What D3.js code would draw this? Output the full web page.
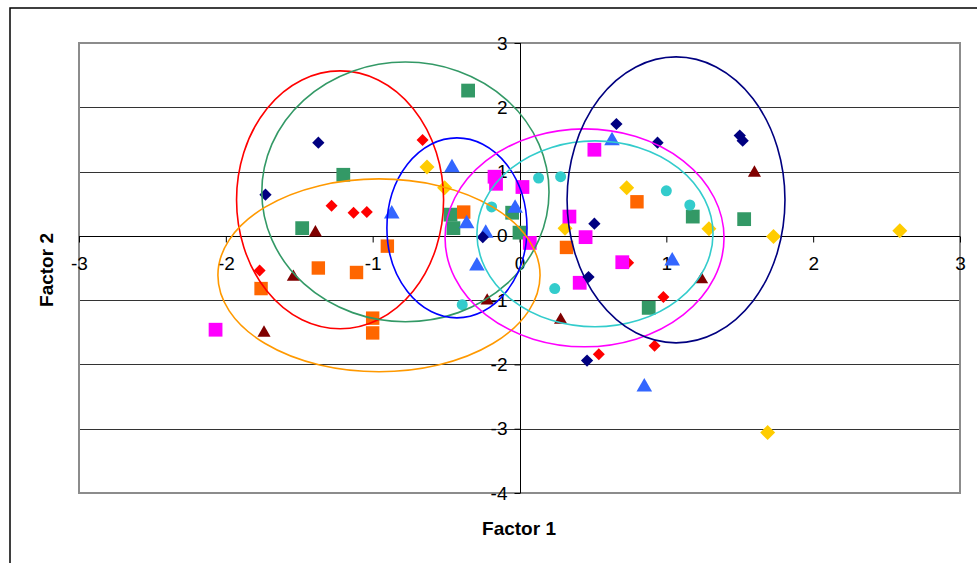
<!DOCTYPE html>
<html>
<head>
<meta charset="utf-8">
<title>Factor scatter</title>
<style>
  body { margin: 0; background: #fff; }
  svg { display: block; font-family: Arial, "Liberation Sans", sans-serif; }
</style>
<script src="https://cdn.jsdelivr.net/npm/d3@7"></script>
</head>
<body>
<svg id="chart" width="977" height="563"></svg>
<script>
// axis ticks
var xTicks = [-3, -2, -1, 0, 1, 2, 3];
var yTicks = [-4, -3, -2, -1, 0, 1, 2, 3];

// point groups, [factor1, factor2]
var navyPts = [[-1.37, 1.45], [-1.73, 0.64], [0.66, 1.74], [0.94, 1.45], [1.50, 1.56], [1.52, 1.48],
  [0.51, 0.19], [-0.25, -0.02], [0.47, -0.64], [0.46, -1.94]];
var redPts = [[-0.66, 1.49], [-1.28, 0.47], [-1.13, 0.36], [-1.04, 0.37], [-1.77, -0.54],
  [0.74, -0.42], [0.98, -0.95], [0.92, -1.71], [0.54, -1.84]];
var greenPts = [[-0.35, 2.26], [-1.20, 0.95], [-1.48, 0.12], [-0.47, 0.33], [-0.45, 0.12],
  [-0.05, 0.36], [0.00, 0.05], [1.18, 0.30], [1.53, 0.26], [0.88, -1.12]];
var bluePts = [[-0.46, 1.06], [-0.87, 0.34], [-0.36, 0.19], [-0.03, 0.43], [-0.29, -0.47],
  [-0.23, 0.04], [0.63, 1.48], [1.04, -0.39], [0.85, -2.35]];
var goldPts = [[-0.63, 1.07], [-0.51, 0.75], [0.31, 0.12], [0.73, 0.75], [1.29, 0.11],
  [1.73, -0.01], [2.59, 0.08], [1.69, -3.06]];
var orangePts = [[-0.38, 0.37], [-0.90, -0.16], [-1.37, -0.50], [-1.11, -0.57], [-1.76, -0.82],
  [-1.00, -1.28], [-1.00, -1.51], [0.32, -0.18], [0.80, 0.53]];
var magentaPts = [[-0.17, 0.92], [-0.16, 0.81], [0.02, 0.76], [0.07, -0.11], [0.51, 1.34],
  [0.34, 0.30], [0.45, -0.02], [0.41, -0.73], [0.70, -0.41], [-2.07, -1.46]];
var cyanPts = [[0.13, 0.90], [0.28, 0.92], [-0.19, 0.45], [1.00, 0.70], [1.16, 0.48],
  [0.24, -0.82], [-0.39, -1.07]];
var maroonPts = [[-1.39, 0.05], [-1.54, -0.64], [-1.74, -1.51], [-0.22, -1.01], [0.28, -1.31],
  [1.24, -0.68], [1.60, 0.98]];

// group ellipses: centre x, centre y, radius x, radius y (data units)
var ellRed = [-1.222, 0.56, 0.705, 2.006];
var ellGreen = [-0.777, 0.684, 0.978, 2.02];
var ellBlue = [-0.426, 0.124, 0.477, 1.40];
var ellOrange = [-0.957, -0.614, 1.097, 1.50];
var ellMagenta = [0.443, -0.031, 0.950, 1.695];
var ellCyan = [0.514, 0.031, 0.804, 1.446];
var ellNavy = [1.066, 0.56, 0.742, 2.224];

var series = [
  {pts: goldPts, color: "#FFCC00", shape: "diamond", size: 112},
  {pts: redPts, color: "#FF0000", shape: "diamond", size: 72},
  {pts: greenPts, color: "#339966", shape: "square", size: 190},
  {pts: orangePts, color: "#FF6600", shape: "square", size: 180},
  {pts: cyanPts, color: "#33CCCC", shape: "circle", size: 95},
  {pts: magentaPts, color: "#FF00FF", shape: "square", size: 190},
  {pts: bluePts, color: "#3366FF", shape: "triangle", size: 105},
  {pts: navyPts, color: "#000080", shape: "diamond", size: 75},
  {pts: maroonPts, color: "#800000", shape: "triangle", size: 75}
];
var ellipses = [
  {e: ellRed, color: "#FF0000"},
  {e: ellGreen, color: "#339966"},
  {e: ellBlue, color: "#0000FF"},
  {e: ellOrange, color: "#FF9900"},
  {e: ellMagenta, color: "#FF00FF"},
  {e: ellCyan, color: "#33CCCC"},
  {e: ellNavy, color: "#000080"}
];

var svg = d3.select("#chart");
var plotL = 79, plotR = 960, plotT = 43, plotB = 493;
var x = d3.scaleLinear().domain([-3, 3]).range([plotL, plotR]);
var y = d3.scaleLinear().domain([-4, 3]).range([plotB, plotT]);

// outer chart frame (runs past the window on right and bottom)
svg.append("rect").attr("x", 10).attr("y", 8).attr("width", 1000).attr("height", 600)
  .attr("fill", "none").attr("stroke", "#000").attr("stroke-width", 1.5);

// gridlines
svg.append("g").selectAll("line").data(yTicks.filter(function (d) { return d !== 0 && d !== -4 && d !== 3; }))
  .enter().append("line")
  .attr("x1", plotL).attr("x2", plotR)
  .attr("y1", function (d) { return Math.round(y(d)) + 0.5; })
  .attr("y2", function (d) { return Math.round(y(d)) + 0.5; })
  .attr("stroke", "#333").attr("stroke-width", 1);

// plot area border
svg.append("rect").attr("x", plotL).attr("y", plotT).attr("width", plotR - plotL).attr("height", plotB - plotT)
  .attr("fill", "none").attr("stroke", "#8c8c8c").attr("stroke-width", 2);

var fmt = function (d) { return String(d); };

// x axis on y = 0
var xAxis = d3.axisBottom(x).tickValues(xTicks).tickFormat(fmt).tickSize(6).tickPadding(14);
var gx = svg.append("g").attr("transform", "translate(0," + (Math.round(y(0)) + 0.5) + ")").call(xAxis);
gx.select(".domain").attr("stroke", "#000").attr("d", "M" + plotL + ",0H" + plotR);
gx.selectAll(".tick line").attr("stroke", "#000");
gx.selectAll("text").attr("font-size", 19).attr("font-family", "Arial, 'Liberation Sans'").attr("fill", "#000");

// y axis on x = 0
var yAxis = d3.axisLeft(y).tickValues(yTicks).tickFormat(fmt).tickSize(6).tickPadding(7);
var gy = svg.append("g").attr("transform", "translate(" + (Math.round(x(0)) + 0.5) + ",0)").call(yAxis);
gy.select(".domain").attr("stroke", "#000").attr("d", "M0," + plotT + "V" + plotB);
gy.selectAll(".tick line").attr("stroke", "#000");
gy.selectAll("text").attr("font-size", 19).attr("font-family", "Arial, 'Liberation Sans'").attr("fill", "#000");

// markers
var sym = {
  diamond: d3.symbolSquare, square: d3.symbolSquare,
  circle: d3.symbolCircle, triangle: d3.symbolTriangle
};
series.forEach(function (s) {
  svg.append("g").selectAll("path").data(s.pts).enter().append("path")
    .attr("d", d3.symbol().type(sym[s.shape]).size(s.size))
    .attr("transform", function (d) {
      var t = "translate(" + x(d[0]) + "," + y(d[1]) + ")";
      return s.shape === "diamond" ? t + " rotate(45)" : t;
    })
    .attr("fill", s.color);
});

// group ellipses on top
svg.append("g").selectAll("ellipse").data(ellipses).enter().append("ellipse")
  .attr("cx", function (d) { return x(d.e[0]); })
  .attr("cy", function (d) { return y(d.e[1]); })
  .attr("rx", function (d) { return x(d.e[0] + d.e[2]) - x(d.e[0]); })
  .attr("ry", function (d) { return y(d.e[1]) - y(d.e[1] + d.e[3]); })
  .attr("fill", "none").attr("stroke", function (d) { return d.color; })
  .attr("stroke-width", 1.6);

// axis titles
svg.append("text").attr("x", 519).attr("y", 535).attr("text-anchor", "middle")
  .attr("font-size", 19).attr("font-weight", "bold").text("Factor 1");
svg.append("text").attr("transform", "translate(53,270) rotate(-90)").attr("text-anchor", "middle")
  .attr("font-size", 19).attr("font-weight", "bold").text("Factor 2");
</script>
</body>
</html>
